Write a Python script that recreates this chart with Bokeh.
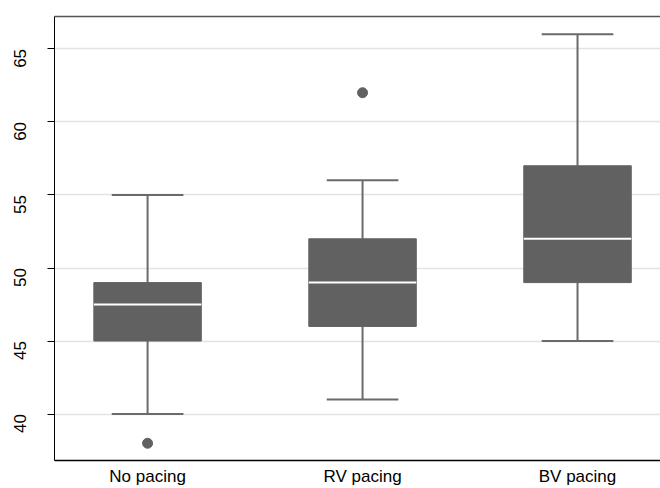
from bokeh.plotting import figure
from bokeh.models import Range1d, FixedTicker, LinearAxis, ColumnDataSource
from bokeh.embed import file_html
from bokeh.resources import INLINE
import math

categories = ["No pacing", "RV pacing", "BV pacing"]
lower_whisker = [40, 41, 45]
q1 = [45, 46, 49]
median = [47.5, 49, 52]
q3 = [49, 52, 57]
upper_whisker = [55, 56, 66]
outlier_group = ["No pacing", "RV pacing"]
outlier_value = [38, 62]
y_ticks = [40, 45, 50, 55, 60, 65]

pos = [i + 1 for i in range(len(categories))]
box_w = 0.5
cap_w = 1 / 3

src = ColumnDataSource(dict(
    x=pos,
    left=[p - box_w / 2 for p in pos],
    right=[p + box_w / 2 for p in pos],
    cl=[p - cap_w / 2 for p in pos],
    cr=[p + cap_w / 2 for p in pos],
    lw=lower_whisker, q1=q1, med=median, q3=q3, uw=upper_whisker,
))
out_src = ColumnDataSource(dict(
    x=[pos[categories.index(g)] for g in outlier_group],
    y=outlier_value,
))

p = figure(width=660, height=488, output_backend="svg", toolbar_location=None,
           x_range=Range1d(0.567, 3.386), y_range=Range1d(36.82, 67.22),
           min_border_left=54, min_border_right=0, min_border_top=16, min_border_bottom=26)
p.outline_line_color = None
p.background_fill_color = "white"
p.border_fill_color = "white"

gray = "#616161"
stem = "#6a6a6a"

p.segment(x0="x", y0="lw", x1="x", y1="q1", source=src, line_color=stem, line_width=2)
p.segment(x0="x", y0="q3", x1="x", y1="uw", source=src, line_color=stem, line_width=2)
p.segment(x0="cl", y0="lw", x1="cr", y1="lw", source=src, line_color=stem, line_width=2)
p.segment(x0="cl", y0="uw", x1="cr", y1="uw", source=src, line_color=stem, line_width=2)
p.quad(left="left", right="right", bottom="q1", top="q3", source=src,
       fill_color=gray, line_color=gray, line_width=1)
p.segment(x0="left", y0="med", x1="right", y1="med", source=src, line_color="white", line_width=2)
p.scatter(x="x", y="y", source=out_src, size=10, fill_color=gray, line_color=gray)

ya = p.yaxis[0]
ya.ticker = FixedTicker(ticks=y_ticks)
ya.major_label_orientation = math.pi / 2
ya.major_label_text_font = "Liberation Sans"
ya.major_label_text_font_size = "17px"
ya.major_label_text_color = "black"
ya.major_label_standoff = 27
ya.major_tick_out = 7
ya.major_tick_in = 0
ya.minor_tick_line_color = None
ya.axis_line_color = "black"
ya.major_tick_line_color = "black"

xa = p.xaxis[0]
xa.ticker = FixedTicker(ticks=pos)
xa.major_label_overrides = {p_: c for p_, c in zip(pos, categories)}
xa.major_label_text_font = "Liberation Sans"
xa.major_label_text_font_size = "17px"
xa.major_label_text_color = "black"
xa.major_label_standoff = 0
xa.major_tick_line_color = None
xa.minor_tick_line_color = None
xa.axis_line_color = "black"
xa.axis_line_width = 1.5

top = LinearAxis(ticker=FixedTicker(ticks=[]), major_label_text_font_size="0px",
                 major_tick_line_color=None, minor_tick_line_color=None,
                 axis_line_color="#555555", axis_line_width=1.5)
p.add_layout(top, "above")

p.xgrid.grid_line_color = None
p.ygrid.ticker = FixedTicker(ticks=y_ticks)
p.ygrid.grid_line_color = "#e3e3e3"
p.ygrid.grid_line_width = 1.5

open("out.html", "w").write(file_html(p, INLINE))
